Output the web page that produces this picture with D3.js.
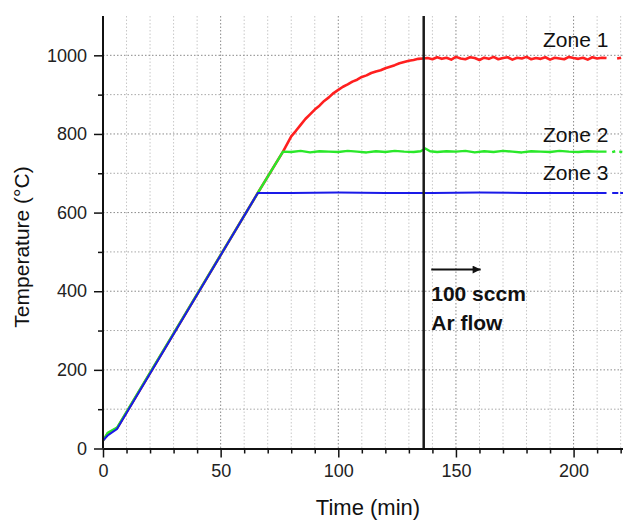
<!DOCTYPE html>
<html>
<head>
<meta charset="utf-8">
<script src="https://cdn.jsdelivr.net/npm/d3@7"></script>
<style>
  body { margin: 0; background: #fff; }
  svg { display: block; font-family: "Liberation Sans", Arial, sans-serif; }
</style>
</head>
<body>
<div id="chart"></div>
<script>
// Zone 1 (red)
const zone1Times = [0, 2, 6, 65.8, 76.5, 80, 82, 84, 86, 88, 90, 92, 94, 96, 98, 100, 102, 104, 106, 108, 110, 112, 114, 116, 118, 120, 122, 124, 126, 128, 130, 132, 134, 136,
  138, 140, 142, 144, 146, 148, 150, 152, 154, 156, 158, 160, 162, 164, 166, 168, 170, 172, 174, 176, 178, 180, 182, 184, 186, 188, 190, 192, 194, 196, 198, 200, 202, 204, 206, 208, 210, 212, 214, 216, 218.5, 220.2];
const zone1Temps = [20, 38, 52, 650, 755, 794, 808, 823, 838, 850, 862, 872, 884, 893, 904, 912, 920, 926, 933, 938, 945, 949, 955, 959, 962, 967, 971, 975, 980, 983, 986, 988, 991, 992,
  993, 990, 995, 991, 994, 989, 996, 992, 990, 995, 993, 988, 994, 991, 996, 990, 993, 995, 989, 994, 992, 996, 990, 993, 991, 995, 989, 994, 992, 990, 996, 993, 991, 994, 989, 995, 992, 994, 993, null, 992, 994];

// Zone 2 (green)
const zone2Times = [0, 2, 6, 65.8, 76.5, 80, 84, 88, 92, 96, 100, 104, 108, 112, 116, 120, 124, 128, 132, 135, 137, 139, 142,
  146, 150, 154, 158, 162, 166, 170, 174, 178, 182, 186, 190, 194, 198, 202, 206, 210, 214, 215.3, 216.4, 217.7, 218.6, 219.4, 220.7];
const zone2Temps = [20, 40, 53, 650, 755, 754, 757, 753, 756, 755, 754, 757, 755, 753, 756, 754, 757, 755, 754, 756, 763, 756, 754,
  756, 755, 757, 753, 756, 754, 757, 755, 753, 756, 755, 754, 757, 755, 754, 756, 755, 755, null, 754, 756, null, 755, 754];

// Zone 3 (blue)
const zone3Times = [0, 2, 6, 65.8, 80, 100, 120, 140, 160, 180, 200, 214, 215.2, 216.4, 219, 219.4, 219.8, 221];
const zone3Temps = [20, 33, 50, 650, 650, 651, 650, 650, 651, 650, 650, 650, null, 650, 650, null, 650, 650];

const zoneNames = ["Zone 1", "Zone 2", "Zone 3"];
const zoneColors = ["#ff1f1f", "#2ae82a", "#1a1ae8"];

const flowTime = 136.3;
const flowLabel = ["100 sccm", "Ar flow"];

const xMajorTicks = [0, 50, 100, 150, 200];
const yMajorTicks = [0, 200, 400, 600, 800, 1000];

const width = 623, height = 520;
const x = d3.scaleLinear().domain([0, 221]).range([103, 623]);
const y = d3.scaleLinear().domain([0, 1100]).range([448.5, 16]);

const svg = d3.select("#chart").append("svg")
  .attr("width", width).attr("height", height);

// grid
const xGrid = d3.range(10, 221, 10);
const yGrid = d3.range(100, 1001, 100);

svg.append("g").selectAll("line").data(xGrid).enter().append("line")
  .attr("x1", d => x(d)).attr("x2", d => x(d))
  .attr("y1", y(1100)).attr("y2", y(0))
  .attr("stroke", d => d % 50 === 0 ? "#8a8a8a" : "#c8c8c8")
  .attr("stroke-width", 1)
  .attr("stroke-dasharray", "1.5,2");

svg.append("g").selectAll("line").data(yGrid).enter().append("line")
  .attr("x1", x(0)).attr("x2", width)
  .attr("y1", d => y(d)).attr("y2", d => y(d))
  .attr("stroke", d => d % 200 === 0 ? "#8a8a8a" : "#a8a8a8")
  .attr("stroke-width", 1)
  .attr("stroke-dasharray", "1.5,2");

// series
const series = [
  { times: zone1Times, temps: zone1Temps, width: 2.6 },
  { times: zone2Times, temps: zone2Temps, width: 2.4 },
  { times: zone3Times, temps: zone3Temps, width: 2 }
];

const line = d3.line()
  .defined(d => d[1] !== null)
  .x(d => x(d[0]))
  .y(d => y(d[1]));

series.forEach(function (s, i) {
  const pts = s.times.map((t, j) => [t, s.temps[j]]);
  svg.append("path")
    .datum(pts)
    .attr("fill", "none")
    .attr("stroke", zoneColors[i])
    .attr("stroke-width", s.width)
    .attr("stroke-linejoin", "round")
    .attr("d", line);
});

// Ar flow marker
svg.append("line")
  .attr("x1", x(flowTime)).attr("x2", x(flowTime))
  .attr("y1", y(1100)).attr("y2", y(0))
  .attr("stroke", "#1a1a1a").attr("stroke-width", 2.5);

svg.append("defs").append("marker")
  .attr("id", "arrow")
  .attr("viewBox", "0 0 10 10")
  .attr("refX", 10).attr("refY", 5)
  .attr("markerUnits", "userSpaceOnUse")
  .attr("markerWidth", 12).attr("markerHeight", 8)
  .attr("orient", "auto")
  .append("path").attr("d", "M0,0L10,5L0,10z").attr("fill", "#111");

svg.append("line")
  .attr("x1", x(139.5)).attr("x2", x(160.5))
  .attr("y1", y(455)).attr("y2", y(455))
  .attr("stroke", "#111").attr("stroke-width", 2)
  .attr("marker-end", "url(#arrow)");

svg.selectAll(".flow").data(flowLabel).enter().append("text")
  .attr("class", "flow")
  .attr("x", x(139.5))
  .attr("y", (d, i) => 301 + i * 29)
  .attr("font-size", 21)
  .attr("font-weight", "bold")
  .attr("fill", "#111")
  .text(d => d);

// zone labels
const zoneLabelY = [47, 142, 180];
svg.selectAll(".zone").data(zoneNames).enter().append("text")
  .attr("class", "zone")
  .attr("x", 543)
  .attr("y", (d, i) => zoneLabelY[i])
  .attr("font-size", 21)
  .attr("fill", "#111")
  .text(d => d);

// axes
const xAxis = svg.append("g")
  .attr("transform", "translate(0," + y(0) + ")")
  .call(d3.axisBottom(x).tickValues(xMajorTicks).tickFormat(d3.format("d")).tickSize(9).tickSizeOuter(0).tickPadding(7));
const xMinor = svg.append("g")
  .attr("transform", "translate(0," + y(0) + ")")
  .call(d3.axisBottom(x).tickValues(xGrid.filter(d => d % 50 !== 0)).tickSize(5).tickFormat("").tickSizeOuter(0));

const yAxis = svg.append("g")
  .attr("transform", "translate(" + x(0) + ",0)")
  .call(d3.axisLeft(y).tickValues(yMajorTicks).tickFormat(d3.format("d")).tickSize(9).tickSizeOuter(0).tickPadding(7));
const yMinor = svg.append("g")
  .attr("transform", "translate(" + x(0) + ",0)")
  .call(d3.axisLeft(y).tickValues([100, 300, 500, 700, 900]).tickSize(5).tickFormat("").tickSizeOuter(0));

[xAxis, xMinor, yAxis, yMinor].forEach(function (g) {
  g.select(".domain").attr("stroke", "#111").attr("stroke-width", 2);
  g.selectAll(".tick line").attr("stroke", "#111").attr("stroke-width", 1.5);
  g.selectAll(".tick text")
    .attr("font-size", 18)
    .attr("font-family", "'Liberation Sans', Arial, sans-serif")
    .attr("fill", "#222");
});
yAxis.select(".domain").attr("d", "M0," + y(0) + "V" + y(1100));
yMinor.select(".domain").remove();
xMinor.select(".domain").remove();

// axis titles
svg.append("text")
  .attr("x", 368).attr("y", 515)
  .attr("text-anchor", "middle")
  .attr("font-size", 22)
  .attr("fill", "#111")
  .text("Time (min)");

svg.append("text")
  .attr("transform", "translate(29,247) rotate(-90)")
  .attr("text-anchor", "middle")
  .attr("font-size", 21)
  .attr("fill", "#111")
  .text("Temperature (°C)");
</script>
</body>
</html>
